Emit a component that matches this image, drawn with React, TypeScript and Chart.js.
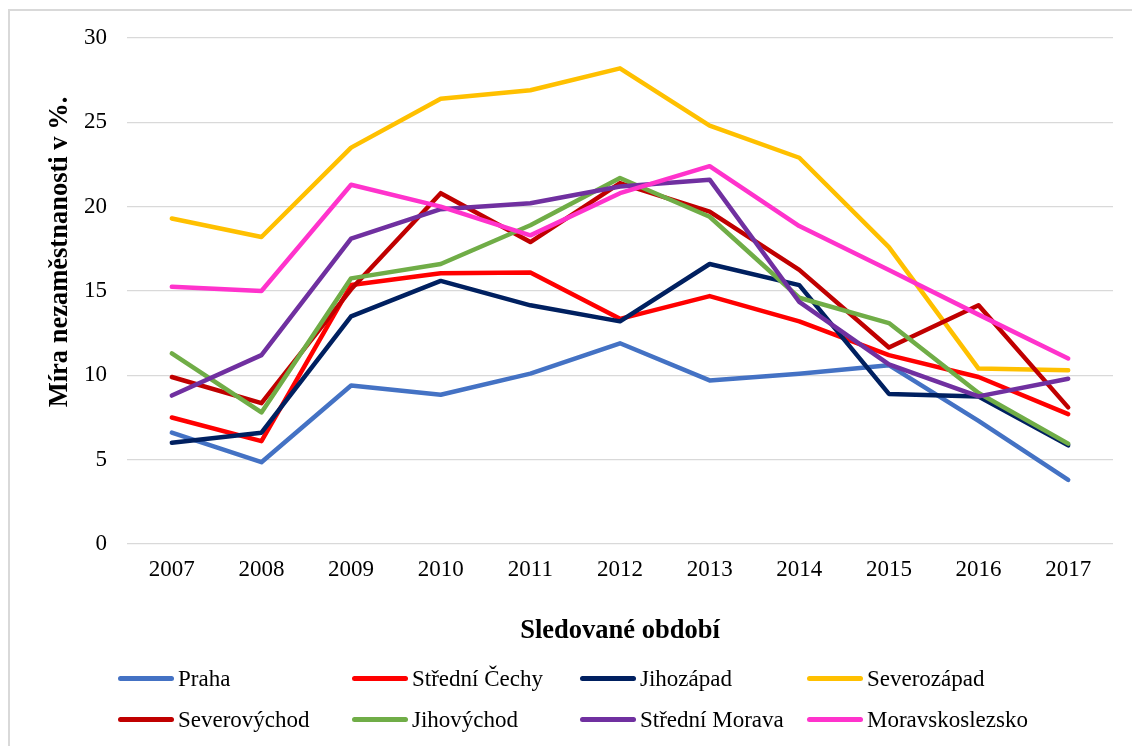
import React, { useEffect, useRef } from "react";
import { Chart, registerables } from "chart.js";

Chart.register(...registerables);

const years = ["2007", "2008", "2009", "2010", "2011", "2012", "2013", "2014", "2015", "2016", "2017"];

const praha = [6.6, 4.85, 9.4, 8.85, 10.1, 11.9, 9.7, 10.1, 10.6, 7.3, 3.8];
const stredniCechy = [7.5, 6.1, 15.35, 16.05, 16.1, 13.35, 14.7, 13.2, 11.2, 9.9, 7.7];
const jihozapad = [6.0, 6.6, 13.5, 15.6, 14.15, 13.2, 16.6, 15.35, 8.9, 8.75, 5.85];
const severozapad = [19.3, 18.2, 23.5, 26.4, 26.9, 28.2, 24.8, 22.9, 17.6, 10.4, 10.3];
const severovychod = [9.9, 8.35, 15.1, 20.8, 17.9, 21.4, 19.7, 16.25, 11.65, 14.15, 8.1];
const jihovychod = [11.3, 7.8, 15.75, 16.6, 18.9, 21.7, 19.4, 14.6, 13.1, 8.95, 5.95];
const stredniMorava = [8.8, 11.2, 18.1, 19.85, 20.2, 21.2, 21.6, 14.35, 10.65, 8.75, 9.8];
const moravskoslezsko = [15.25, 15.0, 21.3, 20.0, 18.3, 20.8, 22.4, 18.85, 16.25, 13.6, 11.0];

const seriesNames = [
  "Praha",
  "Střední Čechy",
  "Jihozápad",
  "Severozápad",
  "Severovýchod",
  "Jihovýchod",
  "Střední Morava",
  "Moravskoslezsko",
];
const seriesValues = [praha, stredniCechy, jihozapad, severozapad, severovychod, jihovychod, stredniMorava, moravskoslezsko];
const seriesColors = ["#4472C4", "#FF0000", "#002060", "#FFC000", "#C00000", "#70AD47", "#7030A0", "#FF33CC"];

const yTicks = [0, 5, 10, 15, 20, 25, 30];
const yTitle = "Míra nezaměstnanosti v %.";
const xTitle = "Sledované období";

const FONT = "'Liberation Serif', 'Times New Roman', serif";

export default function App() {
  const canvasRef = useRef<HTMLCanvasElement | null>(null);

  useEffect(() => {
    const canvas = canvasRef.current;
    if (!canvas) return;

    const yTitlePlugin = {
      id: "yTitlePlugin",
      afterDraw(chart: any) {
        const { ctx } = chart;
        ctx.save();
        ctx.translate(60, 252);
        ctx.rotate(-Math.PI / 2);
        ctx.font = `bold 26.5px ${FONT}`;
        ctx.fillStyle = "#000";
        ctx.textAlign = "center";
        ctx.textBaseline = "middle";
        ctx.fillText(yTitle, 0, 0);
        ctx.restore();
      },
    };

    const n = seriesNames.length;
    const chart = new Chart(canvas, {
      type: "line",
      data: {
        labels: years,
        datasets: seriesNames.map((name, i) => ({
          label: name,
          data: seriesValues[i],
          borderColor: seriesColors[i],
          backgroundColor: seriesColors[i],
          borderWidth: 4.5,
          pointRadius: 0,
          pointHoverRadius: 0,
          tension: 0,
          fill: false,
          borderJoinStyle: "round" as const,
          borderCapStyle: "round" as const,
          order: n - 1 - i,
        })),
      },
      options: {
        responsive: false,
        animation: false,
        layout: { padding: { top: 38, right: 19, left: 0, bottom: 0 } },
        plugins: {
          legend: { display: false },
          tooltip: { enabled: false },
          title: { display: false },
        },
        scales: {
          x: {
            type: "category",
            offset: true,
            grid: { display: false, drawTicks: false },
            border: { display: false },
            ticks: {
              color: "#000",
              font: { family: FONT, size: 23 },
              padding: 12,
              maxRotation: 0,
              autoSkip: false,
            },
            title: {
              display: true,
              text: xTitle,
              color: "#000",
              font: { family: FONT, size: 26.5, weight: "bold" },
              padding: { top: 0, bottom: 99 },
            },
            afterFit(scale: any) {
              scale.height = 202;
            },
          },
          y: {
            min: 0,
            max: 30,
            afterBuildTicks(scale: any) {
              scale.ticks = yTicks.map((v) => ({ value: v }));
            },
            grid: { color: "#d9d9d9", lineWidth: 1.3, drawTicks: false },
            border: { display: false },
            ticks: {
              color: "#000",
              font: { family: FONT, size: 23 },
              padding: 20,
            },
            afterFit(scale: any) {
              scale.width = 127;
            },
          },
        },
      },
      plugins: [yTitlePlugin],
    });

    return () => {
      chart.destroy();
    };
  }, []);

  return (
    <div
      style={{
        position: "absolute",
        left: 0,
        top: 0,
        width: 1132,
        height: 746,
        overflow: "hidden",
        background: "#fff",
      }}
    >
      <div style={{ position: "absolute", left: 8, top: 9, width: 1124, height: 2, background: "#d9d9d9" }} />
      <div style={{ position: "absolute", left: 8, top: 9, width: 2, height: 737, background: "#d9d9d9" }} />
      <canvas ref={canvasRef} width={1132} height={746} style={{ position: "absolute", left: 0, top: 0 }} />
      <div
        style={{
          position: "absolute",
          left: 118,
          top: 658,
          display: "grid",
          gridTemplateColumns: "234px 228px 227px auto",
          gridAutoRows: "41px",
          fontFamily: FONT,
          fontSize: 23,
          color: "#000",
        }}
      >
        {seriesNames.map((name, i) => (
          <div key={name} style={{ display: "flex", alignItems: "center", whiteSpace: "nowrap" }}>
            <span
              style={{
                display: "inline-block",
                width: 56,
                height: 5,
                borderRadius: 3,
                background: seriesColors[i],
                marginRight: 4,
              }}
            />
            <span>{name}</span>
          </div>
        ))}
      </div>
    </div>
  );
}
